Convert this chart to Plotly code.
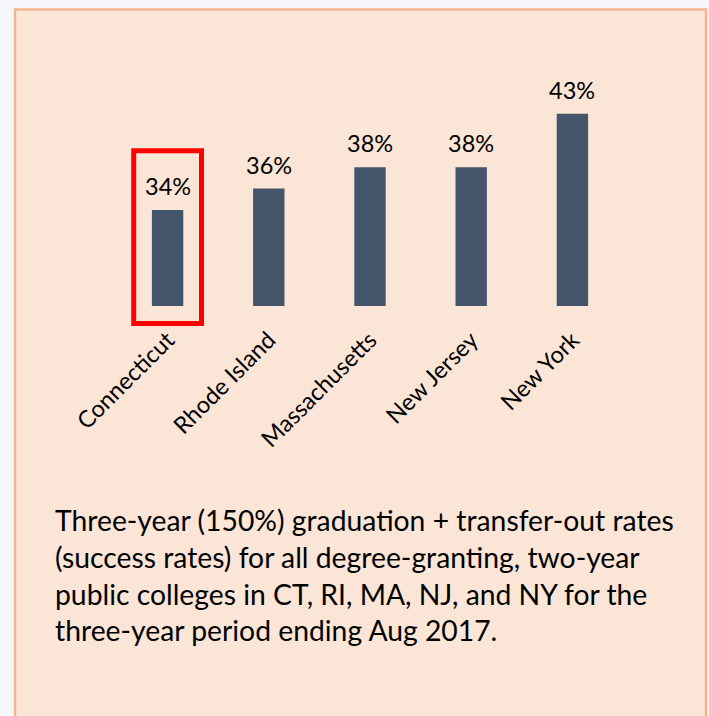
import plotly.graph_objects as go

states = ["Connecticut", "Rhode Island", "Massachusetts", "New Jersey", "New York"]
rates = [34, 36, 38, 38, 43]
labels = ["34%", "36%", "38%", "38%", "43%"]
highlight = "Connecticut"
caption_lines = [
    "Three-year (150%) graduation + transfer-out rates",
    "(success rates) for all degree-granting, two-year",
    "public colleges in CT, RI, MA, NJ, and NY for the",
    "three-year period ending Aug 2017.",
]

W, H = 709, 716
L, R, T, B = 117, 86, 39, 410
PW, PH = W - L - R, H - T - B
FONT = "Lato"
BAR = "#44546A"
PEACH = "#FBE5D6"


def px_x(px):
    return (px - L) / PW


def px_y(py):
    return (H - B - py) / PH


fig = go.Figure()
fig.add_trace(go.Bar(
    x=states, y=rates, marker=dict(color=BAR, line=dict(width=0)),
    width=0.31, hoverinfo="skip",
))

annotations = []
for s, v, t in zip(states, rates, labels):
    annotations.append(dict(x=s, y=v, xref="x", yref="y", text=t, showarrow=False,
                            yanchor="bottom", yshift=8,
                            font=dict(family=FONT, size=23.5, color="#000000")))

annotations.append(dict(
    x=px_x(53), y=px_y(501), xref="paper", yref="paper", xanchor="left", yanchor="top",
    align="left", showarrow=False, text="<br>".join(caption_lines),
    font=dict(family=FONT, size=28.3, color="#000000"),
))

hi = states.index(highlight)
n = len(states)
shapes = [
    # peach panel
    dict(type="rect", xref="paper", yref="paper", x0=px_x(15), x1=px_x(706),
         y0=px_y(730), y1=px_y(9.5),
         fillcolor=PEACH, line=dict(color="#F6B48D", width=2.5), layer="below"),
    # red highlight box around the highlighted category
    dict(type="rect", xref="paper", yref="paper",
         x0=(hi + 0.5 - 0.335) / n, x1=(hi + 0.5 + 0.335) / n,
         y0=px_y(323.5), y1=px_y(150.8),
         line=dict(color="#FF0000", width=5), fillcolor="rgba(0,0,0,0)", layer="above"),
]

fig.update_layout(
    width=W, height=H,
    margin=dict(l=L, r=R, t=T, b=B, autoexpand=False),
    paper_bgcolor="#F6F7FB", plot_bgcolor="rgba(0,0,0,0)",
    showlegend=False,
    annotations=annotations, shapes=shapes,
    xaxis=dict(showgrid=False, zeroline=False, showline=False, tickangle=-45,
               ticks="outside", ticklen=10, tickcolor="rgba(0,0,0,0)",
               tickfont=dict(family=FONT, size=23.5, color="#000000")),
    yaxis=dict(range=[25, 50], dtick=25, showgrid=True, gridcolor="#EFD8C9", gridwidth=1,
               zeroline=False, showline=False, showticklabels=False),
)

fig.write_html("out.html", config={"displayModeBar": False},
               post_script="document.body.style.margin='0';document.body.style.overflow='hidden';")
